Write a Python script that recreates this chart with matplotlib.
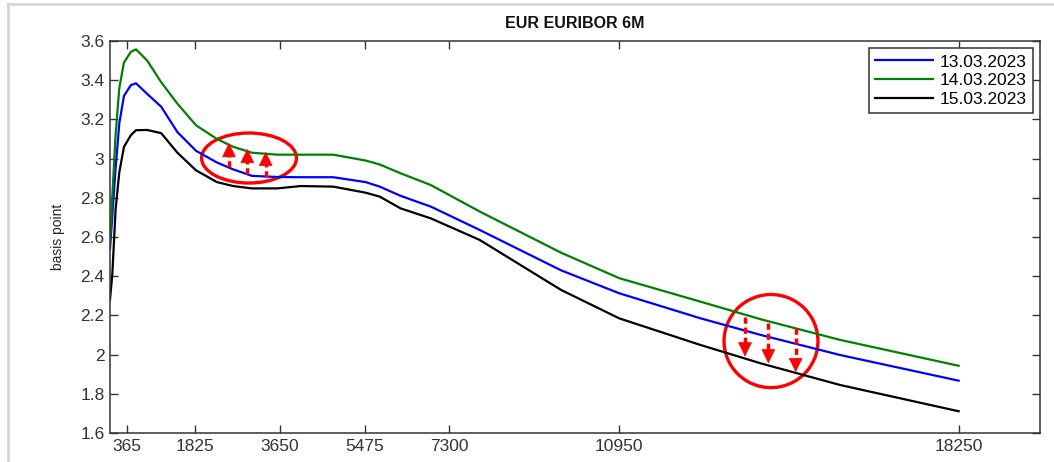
import numpy as np
import matplotlib
matplotlib.use('Agg')
import matplotlib.pyplot as plt
from matplotlib.patches import Ellipse
from matplotlib.lines import Line2D

plt.rcParams['font.family'] = ['Liberation Sans', 'DejaVu Sans']

# Plazos (días) y curvas EURIBOR 6M
dias = [0, 50, 120, 200, 300, 450, 560, 800, 1100, 1450, 1850, 2300, 2650, 3050,
        3600, 4100, 4800, 5500, 5800, 6250, 6900, 7950, 9700, 10950, 12700, 14000,
        15700, 18250]

curva_13 = [2.54, 2.71, 2.95, 3.18, 3.32, 3.375, 3.384, 3.33, 3.265, 3.135, 3.04,
            2.98, 2.945, 2.912, 2.906, 2.905, 2.905, 2.88, 2.857, 2.81, 2.755, 2.636,
            2.43, 2.313, 2.185, 2.10, 1.998, 1.867]

curva_14 = [2.57, 2.81, 3.12, 3.36, 3.49, 3.545, 3.557, 3.50, 3.39, 3.28, 3.17,
            3.10, 3.06, 3.03, 3.02, 3.02, 3.02, 2.99, 2.97, 2.925, 2.865, 2.73,
            2.52, 2.39, 2.27, 2.18, 2.075, 1.943]

curva_15 = [2.28, 2.41, 2.74, 2.93, 3.06, 3.12, 3.145, 3.146, 3.13, 3.03, 2.94,
            2.88, 2.86, 2.848, 2.848, 2.86, 2.857, 2.826, 2.806, 2.746, 2.695, 2.585,
            2.33, 2.185, 2.049, 1.955, 1.845, 1.711]

etiquetas = ['13.03.2023', '14.03.2023', '15.03.2023']
colores = ['#0000ff', '#008000', '#000000']

xticks = [365, 1825, 3650, 5475, 7300, 10950, 18250]
yticks = [1.6, 1.8, 2.0, 2.2, 2.4, 2.6, 2.8, 3.0, 3.2, 3.4, 3.6]
ytick_labels = ['1.6', '1.8', '2', '2.2', '2.4', '2.6', '2.8', '3', '3.2', '3.4', '3.6']

fig = plt.figure(figsize=(10.54, 4.62), dpi=100)
ax = fig.add_axes([110 / 1054, 29 / 462, 930 / 1054, 392 / 462])

for serie, etiqueta, color in zip([curva_13, curva_14, curva_15], etiquetas, colores):
    ax.plot(dias, serie, color=color, lw=1.6, label=etiqueta)

ax.set_xlim(0, 20000)
ax.set_ylim(1.6, 3.6)
ax.set_xticks(xticks)
ax.set_xticklabels([str(t) for t in xticks])
ax.set_yticks(yticks)
ax.set_yticklabels(ytick_labels)

ax.tick_params(direction='in', length=6, width=1, top=True, right=True,
               labelsize=12.5, colors='#333333', labelcolor='#333333', pad=4)
for s in ax.spines.values():
    s.set_color('#333333')
    s.set_linewidth(1.1)

ax.set_title('EUR EURIBOR 6M', fontsize=11.5, fontweight='bold', pad=9, color='#111111')
ax.set_ylabel('basis point', fontsize=10, color='#222222', labelpad=11)

leg = ax.legend(loc='upper right', fontsize=12.5, fancybox=False, framealpha=1,
                edgecolor='#333333', handlelength=3.3, handletextpad=0.4,
                labelspacing=0.2, borderpad=0.35, borderaxespad=0.42)
leg.get_frame().set_linewidth(1.1)

# --- Anotaciones en rojo ---
rojo = '#ff0000'

def flecha(x, y0, y1):
    d = np.sign(y1 - y0)
    base = y1 - d * 0.05
    ax.plot([x, x], [y0, base], color=rojo, lw=2.5, dashes=(1.8, 1.1),
            solid_capstyle='butt', dash_capstyle='butt')
    ax.annotate('', xy=(x, y1), xytext=(x, base - d * 0.005),
                arrowprops=dict(arrowstyle='-|>,head_length=0.45,head_width=0.22',
                                color=rojo, lw=0.5, mutation_scale=21,
                                shrinkA=0, shrinkB=0))

ax.add_patch(Ellipse((2990, 3.003), 2040, 0.255, fill=False, edgecolor=rojo, lw=2.4))
for x, y0, y1 in [(2559, 2.957, 3.08), (2953, 2.92, 3.05), (3348, 2.906, 3.035)]:
    flecha(x, y0, y1)

ax.add_patch(Ellipse((14215, 2.069), 2020, 0.475, fill=False, edgecolor=rojo, lw=2.4))
for x, y0, y1 in [(13656, 2.193, 1.99), (14158, 2.161, 1.955), (14746, 2.135, 1.91)]:
    flecha(x, y0, y1)

# marco gris de la captura
fig.add_artist(Line2D([8 / 1054, 1], [1 - 4 / 462, 1 - 4 / 462], color='#d6d6d6', lw=2,
                      transform=fig.transFigure))
fig.add_artist(Line2D([8 / 1054, 8 / 1054], [0, 1 - 4 / 462], color='#d6d6d6', lw=2,
                      transform=fig.transFigure))

fig.savefig('out.png', dpi=100)
